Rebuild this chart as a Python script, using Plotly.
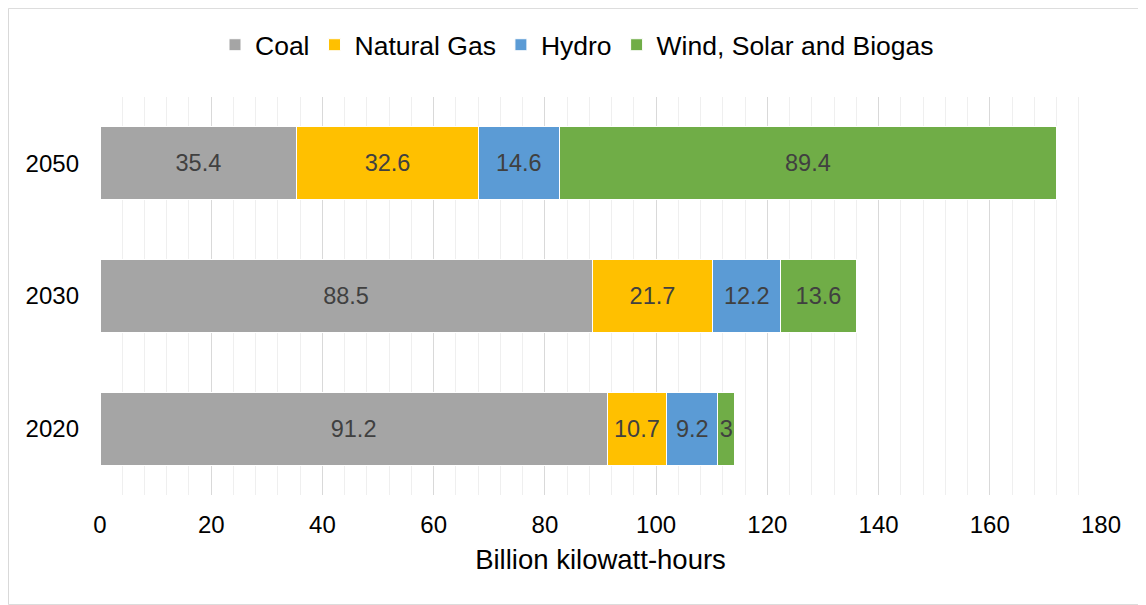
import plotly.graph_objects as go

years = ["2020", "2030", "2050"]
coal = [91.2, 88.5, 35.4]
natural_gas = [10.7, 21.7, 32.6]
hydro = [9.2, 12.2, 14.6]
renewables = [3, 13.6, 89.4]

series = [
    ("Coal", coal, "#a5a5a5"),
    ("Natural Gas", natural_gas, "#ffc000"),
    ("Hydro", hydro, "#5b9bd5"),
    ("Wind, Solar and Biogas", renewables, "#70ad47"),
]

fig = go.Figure()
for name, vals, color in series:
    fig.add_trace(go.Bar(
        y=years, x=vals, name=name, orientation="h",
        marker=dict(color=color, line=dict(color="white", width=1)),
        text=[str(v) for v in vals], textposition="inside",
        insidetextanchor="middle",
        textfont=dict(color="#404040", size=23.5),
    ))

# page body has an 8px margin, so the figure is a bit smaller than the window
W, H = 1138, 597
ml, mr, mt, mb = 92, 45, 89, 110
pw, ph = W - ml - mr, H - mt - mb

fig.update_layout(
    width=W, height=H,
    barmode="stack", bargap=0.45,
    margin=dict(l=ml, r=mr, t=mt, b=mb, autoexpand=False),
    paper_bgcolor="white", plot_bgcolor="white",
    font=dict(family="Liberation Sans, Arial, sans-serif", color="#000000"),
    uniformtext=dict(minsize=23, mode="show"),
    legend=dict(orientation="h", xref="container", x=0.5, xanchor="center",
                yref="container", y=1 - 37 / H, yanchor="middle",
                font=dict(size=26.5), traceorder="normal", itemwidth=30),
    xaxis=dict(
        range=[0, 180], dtick=20, showgrid=True, gridcolor="#d9d9d9",
        gridwidth=1.3, zeroline=False, automargin=False,
        minor=dict(dtick=4, showgrid=True, gridcolor="#efefef", gridwidth=1),
        tickfont=dict(size=24), ticks="", fixedrange=True,
        ticklabelstandoff=13,
        title=dict(text="Billion kilowatt-hours", font=dict(size=27.5), standoff=12),
    ),
    yaxis=dict(showgrid=False, tickfont=dict(size=24), ticks="",
               ticklabelstandoff=20, automargin=False),
    shapes=[dict(type="rect", xref="paper", yref="paper",
                 x0=-ml / pw + 0.0005, x1=(W - ml) / pw - 0.0005,
                 y0=-mb / ph + 0.001, y1=(H - mb) / ph - 0.001,
                 line=dict(color="#d9d9d9", width=1), layer="below")],
)

fig.write_html("out.html")
